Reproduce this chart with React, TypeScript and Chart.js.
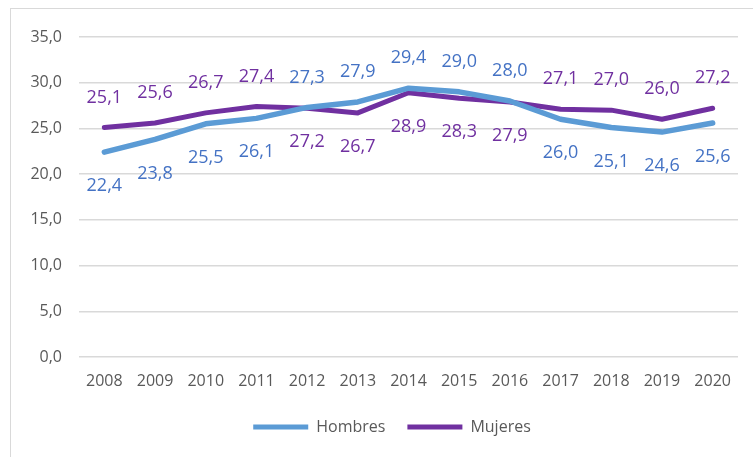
import React, { useEffect, useRef } from "react";
import { Chart, registerables } from "chart.js";

Chart.register(...registerables);

const years = ["2008", "2009", "2010", "2011", "2012", "2013", "2014", "2015", "2016", "2017", "2018", "2019", "2020"];
const hombres = [22.4, 23.8, 25.5, 26.1, 27.3, 27.9, 29.4, 29.0, 28.0, 26.0, 25.1, 24.6, 25.6];
const mujeres = [25.1, 25.6, 26.7, 27.4, 27.2, 26.7, 28.9, 28.3, 27.9, 27.1, 27.0, 26.0, 27.2];
const seriesNames = ["Hombres", "Mujeres"];
const lineColors = ["#5B9BD5", "#7030A0"];
const labelColors = ["#4472C4", "#7030A0"];
const yTicks = [0, 5, 10, 15, 20, 25, 30, 35];

const FONT = "'Open Sans', sans-serif";
const fmt = (v: number) => v.toFixed(1).replace(".", ",");

const dataLabels = {
  id: "dataLabels",
  afterDatasetsDraw(chart: any) {
    const ctx = chart.ctx;
    const ds = chart.data.datasets;
    ctx.save();
    ctx.font = `18px ${FONT}`;
    ctx.textAlign = "center";
    ctx.textBaseline = "middle";
    ds.forEach((d: any, di: number) => {
      const meta = chart.getDatasetMeta(di);
      const other = ds[1 - di].data;
      meta.data.forEach((pt: any, i: number) => {
        const v = d.data[i];
        const above = v > other[i];
        ctx.fillStyle = labelColors[di];
        ctx.fillText(fmt(v), pt.x, pt.y + (above ? -30 : 34));
      });
    });
    ctx.restore();
  },
};

const frame = {
  id: "frame",
  beforeDraw(chart: any) {
    const ctx = chart.ctx;
    ctx.save();
    ctx.fillStyle = "#ffffff";
    ctx.fillRect(0, 0, chart.width, chart.height);
    ctx.strokeStyle = "#d9d9d9";
    ctx.lineWidth = 1;
    ctx.strokeRect(10.5, 8.5, chart.width + 10, chart.height + 10);
    ctx.restore();
  },
};

const legendShift = {
  id: "legendShift",
  afterLayout(chart: any) {
    if (chart.legend) {
      chart.legend.left += 23;
      chart.legend.right += 23;
    }
  },
};

export default function App() {
  const ref = useRef<HTMLCanvasElement>(null);
  useEffect(() => {
    if (!ref.current) return;
    const chart = new Chart(ref.current, {
      type: "line",
      data: {
        labels: years,
        datasets: [
          {
            label: seriesNames[0],
            data: hombres,
            borderColor: lineColors[0],
            backgroundColor: lineColors[0],
            borderWidth: 5.5,
            pointRadius: 0,
            tension: 0,
            borderCapStyle: "round",
            borderJoinStyle: "round",
          },
          {
            label: seriesNames[1],
            data: mujeres,
            borderColor: lineColors[1],
            backgroundColor: lineColors[1],
            borderWidth: 5,
            pointRadius: 0,
            tension: 0,
            borderCapStyle: "round",
            borderJoinStyle: "round",
          },
        ],
      },
      options: {
        animation: false,
        responsive: false,
        layout: { padding: { top: 37, right: 15, left: 0, bottom: 12 } },
        plugins: {
          tooltip: { enabled: false },
          legend: {
            position: "bottom",
            labels: {
              font: { family: FONT, size: 16 },
              color: "#595959",
              boxWidth: 55,
              boxHeight: 5,
              padding: 22,
              generateLabels: (chart: any) =>
                chart.data.datasets.map((d: any, i: number) => ({
                  text: d.label,
                  fillStyle: lineColors[i],
                  strokeStyle: lineColors[i],
                  lineWidth: 0,
                  datasetIndex: i,
                  fontColor: "#595959",
                })),
            },
          },
        },
        scales: {
          x: {
            offset: true,
            grid: { display: false },
            border: { display: false },
            ticks: { font: { family: FONT, size: 16 }, color: "#595959", padding: 7, maxRotation: 0 },
            afterFit: (s: any) => { s.height = 40; },
          },
          y: {
            min: 0,
            max: 35,
            afterBuildTicks: (s: any) => { s.ticks = yTicks.map((v) => ({ value: v })); },
            grid: { color: "#d9d9d9", lineWidth: 1.5, drawTicks: false },
            border: { display: false },
            ticks: {
              font: { family: FONT, size: 16 },
              color: "#595959",
              padding: 17,
              callback: (v: any) => fmt(Number(v)),
            },
            afterFit: (s: any) => { s.width = 79; },
          },
        },
      },
      plugins: [frame, legendShift, dataLabels],
    });
    return () => chart.destroy();
  }, []);
  return (
    <div style={{ position: "absolute", left: 0, top: 0, width: 753, height: 457 }}>
      <canvas ref={ref} width={753} height={457} style={{ width: 753, height: 457 }} />
    </div>
  );
}
